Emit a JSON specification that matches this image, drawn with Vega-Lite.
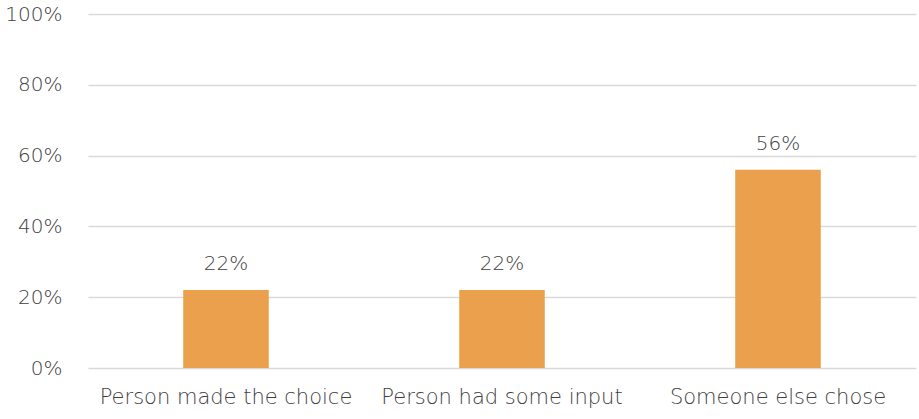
{
  "$schema": "https://vega.github.io/schema/vega-lite/v6.json",
  "width": 828,
  "height": 354,
  "autosize": {"type": "none"},
  "padding": {"left": 88, "top": 14, "right": 3, "bottom": 51},
  "background": "white",
  "data": {
    "values": [
      {"category": "Person made the choice", "value": 0.22},
      {"category": "Person had some input", "value": 0.22},
      {"category": "Someone else chose", "value": 0.56}
    ]
  },
  "config": {
    "view": {"stroke": null},
    "font": "DejaVu Sans"
  },
  "encoding": {
    "x": {
      "field": "category",
      "type": "nominal",
      "sort": null,
      "scale": {"paddingInner": 0.69, "paddingOuter": 0.345},
      "axis": {
        "title": null,
        "labelAngle": 0,
        "domain": false,
        "ticks": false,
        "labelLimit": 0,
        "labelFont": "DejaVu Sans",
        "labelFontWeight": 200,
        "labelFontSize": 21,
        "labelColor": "#404040",
        "labelPadding": 18
      }
    },
    "y": {
      "field": "value",
      "type": "quantitative",
      "scale": {"domain": [0, 1]},
      "axis": {
        "title": null,
        "format": ".0%",
        "values": [0, 0.2, 0.4, 0.6, 0.8, 1],
        "domain": false,
        "ticks": false,
        "gridColor": "#D9D9D9",
        "gridWidth": 1.5,
        "labelFont": "DejaVu Sans",
        "labelFontWeight": 200,
        "labelFontSize": 20,
        "labelColor": "#404040",
        "labelPadding": 26
      }
    }
  },
  "layer": [
    {"mark": {"type": "bar", "color": "#EBA04D"}},
    {
      "mark": {
        "type": "text",
        "baseline": "middle",
        "dy": -26,
        "font": "DejaVu Sans",
        "fontWeight": 200,
        "fontSize": 20,
        "color": "#404040"
      },
      "encoding": {"text": {"field": "value", "type": "quantitative", "format": ".0%"}}
    }
  ]
}
